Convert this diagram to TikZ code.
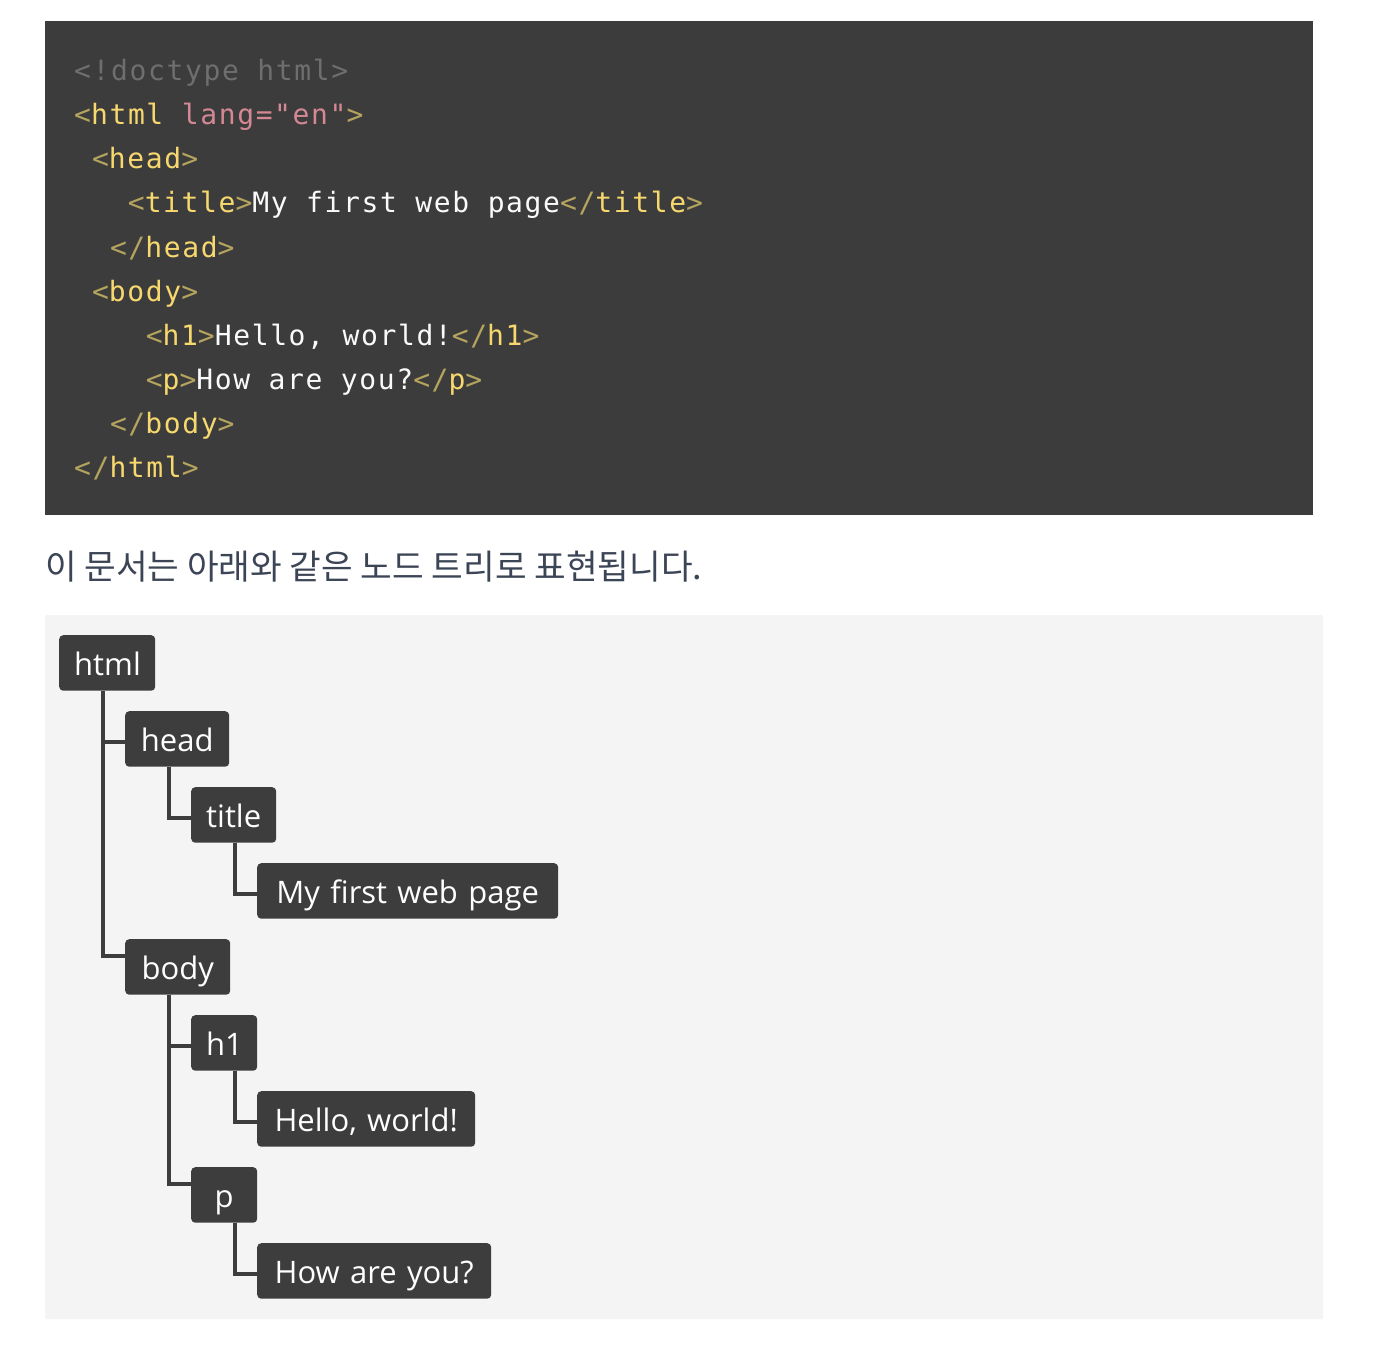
\documentclass[tikz,border=0pt]{standalone}
\usepackage{fontspec}
\setmainfont{Open Sans}
\newfontfamily\codefont[LetterSpace=5.8]{DejaVu Sans Mono}
\newfontfamily\kofont{Noto Sans CJK KR}
\definecolor{codebg}{HTML}{3C3C3C}
\definecolor{panelbg}{HTML}{F4F4F4}
\definecolor{nodebg}{HTML}{3D3D3D}
\definecolor{cdoc}{HTML}{6E6E6E}
\definecolor{cbr}{HTML}{B4A45E}
\definecolor{ctag}{HTML}{F7D86E}
\definecolor{cattr}{HTML}{D48894}
\definecolor{ctxt}{HTML}{FAFAFA}
\definecolor{kotext}{HTML}{3C4556}
\newcommand{\Br}[1]{\textcolor{cbr}{#1}}
\newcommand{\Tg}[1]{\textcolor{ctag}{#1}}
\newcommand{\At}[1]{\textcolor{cattr}{#1}}
\newcommand{\Tx}[1]{\textcolor{ctxt}{#1}}
\tikzset{
  codeline/.style={anchor=base west, inner sep=0pt, font=\codefont\fontsize{28pt}{28pt}\selectfont},
  treebox/.style={anchor=north west, fill=nodebg, rounded corners=4pt, text=white,
    inner xsep=15pt, inner ysep=0pt, minimum height=55.5pt, text height=24.5pt, text depth=0pt,
    align=center, font=\fontsize{31pt}{31pt}\selectfont},
  conn/.style={draw=nodebg, line width=3.5pt}
}
\begin{document}
\begin{tikzpicture}[x=1pt,y=-1pt]
\useasboundingbox (0,0) rectangle (1373,1351);
\fill[white] (0,0) rectangle (1373,1351);
% code block
\fill[codebg] (45,21) rectangle (1313,515);
\node[codeline] (l1) at (74,81) {\textcolor{cdoc}{<!doctype html>}};
\node[codeline] (l2) at (74,125) {\Br{<}\Tg{html} \At{lang="en"}\Br{>}};
\node[codeline] (l3) at (91.9,169) {\Br{<}\Tg{head}\Br{>}};
\node[codeline] (l4) at (127.7,213) {\Br{<}\Tg{title}\Br{>}\Tx{My first web page}\Br{</}\Tg{title}\Br{>}};
\node[codeline] (l5) at (109.8,257) {\Br{</}\Tg{head}\Br{>}};
\node[codeline] (l6) at (91.9,301) {\Br{<}\Tg{body}\Br{>}};
\node[codeline] (l7) at (145.6,345) {\Br{<}\Tg{h1}\Br{>}\Tx{Hello, world!}\Br{</}\Tg{h1}\Br{>}};
\node[codeline] (l8) at (145.6,389) {\Br{<}\Tg{p}\Br{>}\Tx{How are you?}\Br{</}\Tg{p}\Br{>}};
\node[codeline] (l9) at (109.8,433) {\Br{</}\Tg{body}\Br{>}};
\node[codeline] (l10) at (74,477) {\Br{</}\Tg{html}\Br{>}};
% caption
\node[anchor=base west, inner sep=0pt, text=kotext, font=\kofont\fontsize{34.4pt}{34.4pt}\selectfont] (cap) at (45,579) {이 문서는 아래와 같은 노드 트리로 표현됩니다.};
% panel
\fill[panelbg, rounded corners=2pt] (45,615) rectangle (1323,1319);
% tree nodes
\node[treebox, text width=66pt] (html) at (59,635) {html};
\node[treebox, text width=74pt] (head) at (125,711) {head};
\node[treebox, text width=55pt] (title) at (191,787) {title};
\node[treebox, text width=271pt] (mfwp) at (257,863) {My first web page};
\node[treebox, text width=75pt] (body) at (125,939) {body};
\node[treebox, text width=36pt] (h1) at (191,1015) {h1};
\node[treebox, text width=188pt] (hw) at (257,1091) {Hello, world!};
\node[treebox, text width=36pt] (p) at (191,1167) {p};
\node[treebox, text width=204pt] (hay) at (257,1243) {How are you?};
% connectors
\draw[conn] ([xshift=44pt]html.south west) |- ([yshift=-31pt]head.north west);
\draw[conn] ([xshift=44pt]html.south west) |- ([yshift=-17pt]body.north west);
\draw[conn] ([xshift=44pt]head.south west) |- ([yshift=-31pt]title.north west);
\draw[conn] ([xshift=44pt]title.south west) |- ([yshift=-31pt]mfwp.north west);
\draw[conn] ([xshift=44pt]body.south west) |- ([yshift=-31pt]h1.north west);
\draw[conn] ([xshift=44pt]body.south west) |- ([yshift=-17pt]p.north west);
\draw[conn] ([xshift=44pt]h1.south west) |- ([yshift=-31pt]hw.north west);
\draw[conn] ([xshift=44pt]p.south west) |- ([yshift=-31pt]hay.north west);
\end{tikzpicture}
\end{document}
